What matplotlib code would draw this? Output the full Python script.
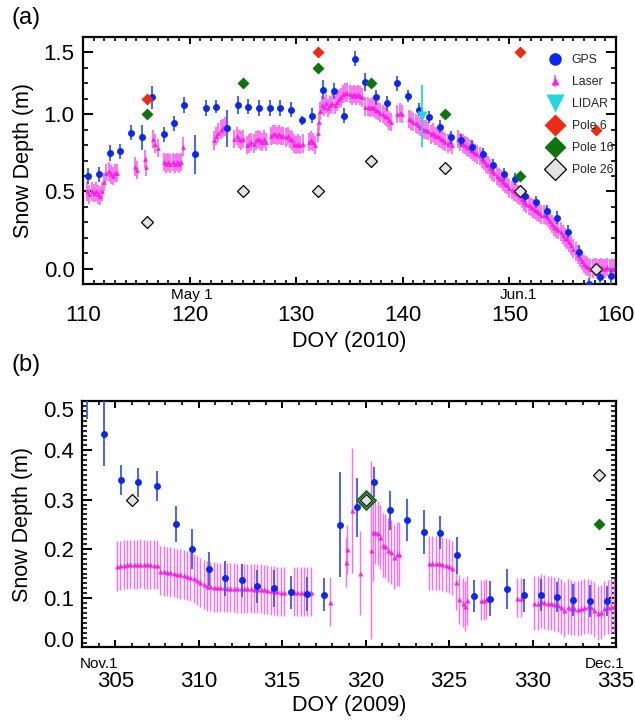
import numpy as np
import matplotlib
matplotlib.use('Agg')
import matplotlib.pyplot as plt
from matplotlib.ticker import MultipleLocator

plt.rcParams['font.family'] = ['Liberation Sans', 'DejaVu Sans']

# ---------------- panel (a): spring 2010 ----------------
gps_a_doy = [110.5, 111.5, 112.5, 113.5, 114.5, 115.5, 116.5, 117.6, 118.5, 119.5,
             120.5, 121.5, 122.5, 123.5, 124.5, 125.5, 126.5, 127.5, 128.5, 129.5,
             130.5, 131.5, 132.5, 133.5, 134.5, 135.5, 136.5, 137.5, 138.5, 139.5,
             140.5, 141.5, 142.5, 143.5, 144.5, 145.5, 146.5, 147.5, 148.5, 149.5,
             150.5, 151.5, 152.5, 153.5, 154.5, 155.5, 156.5, 157.5, 158.5, 159.5]
gps_a_depth = [0.60, 0.61, 0.75, 0.76, 0.88, 0.85, 1.11, 0.87, 0.94, 1.06,
               0.74, 1.04, 1.05, 0.91, 1.06, 1.05, 1.04, 1.04, 1.04, 1.03,
               0.96, 0.99, 1.16, 1.15, 0.99, 1.36, 1.21, 1.11, 1.07, 1.20,
               1.12, 1.03, 0.98, 0.92, 0.85, 0.83, 0.79, 0.74, 0.67, 0.61,
               0.58, 0.47, 0.43, 0.37, 0.33, 0.24, 0.11, -0.10, -0.055, -0.05]
gps_a_err = [0.05, 0.05, 0.05, 0.05, 0.05, 0.08, 0.075, 0.05, 0.05, 0.05,
             0.125, 0.05, 0.04, 0.12, 0.06, 0.05, 0.05, 0.05, 0.05, 0.05,
             0.03, 0.05, 0.06, 0.05, 0.05, 0.05, 0.06, 0.05, 0.05, 0.05,
             0.04, 0.04, 0.04, 0.04, 0.04, 0.04, 0.04, 0.04, 0.04, 0.04,
             0.04, 0.04, 0.04, 0.04, 0.04, 0.04, 0.04, 0.04, 0.05, 0.05]

laser_a_doy = [110.4, 110.6, 110.8, 111.0, 111.2, 111.4, 111.6, 111.8,
               112.0, 112.2, 112.4, 112.6, 112.8, 113.0, 113.2,
               114.9, 115.05, 115.8, 115.95, 116.6, 116.8, 117.0,
               117.6, 117.8, 118.0, 118.2, 118.4, 118.6, 118.8, 119.0, 119.2, 119.35,
               122.3, 122.5, 122.7, 122.9, 123.1, 123.3,
               124.2, 124.4, 124.6, 124.8, 125.0,
               125.4, 125.6, 125.8, 126.0, 126.2, 126.4, 126.6, 126.8, 127.0, 127.2,
               127.6, 127.8, 128.0, 128.2, 128.4, 128.6, 128.8, 129.0, 129.2, 129.4, 129.6,
               129.8, 130.0, 130.2, 130.4, 130.6,
               131.2, 131.4, 131.6, 131.8,
               132.0, 132.1, 132.2, 132.4, 132.6, 132.8, 133.0, 133.2, 133.4, 133.6, 133.8,
               134.0, 134.2, 134.4, 134.6, 134.8, 135.0, 135.2, 135.4, 135.6, 135.8, 136.0, 136.2,
               136.5, 136.7, 136.9, 137.1, 137.3, 137.5, 137.7, 137.9, 138.1, 138.3, 138.5, 138.7, 138.9,
               139.5, 139.7, 139.9,
               140.6, 140.8, 141.0, 141.2, 141.4, 141.6, 141.8, 142.0, 142.2, 142.4, 142.6, 142.8,
               143.0, 143.2, 143.4, 143.6, 143.8, 144.0, 144.2, 144.4, 144.6,
               145.2, 145.4, 145.6, 145.8, 146.0, 146.2, 146.4, 146.6, 146.8, 147.0,
               147.2, 147.4, 147.6, 147.8, 148.0, 148.2, 148.4, 148.6, 148.8, 149.0,
               149.2, 149.4, 149.6, 149.8, 150.0, 150.2, 150.4, 150.6, 150.8, 151.0,
               151.2, 151.4, 151.6, 151.8, 152.0, 152.2, 152.4, 152.6, 152.8, 153.0,
               153.2, 153.4, 153.6, 153.8, 154.0, 154.2, 154.4, 154.6, 154.8, 155.0,
               155.2, 155.4, 155.6, 155.8, 156.0, 156.2, 156.4, 156.6, 156.8, 157.0,
               157.2, 157.4, 157.6, 157.8, 158.0, 158.2, 158.4, 158.6, 158.8, 159.0,
               159.2, 159.4, 159.6, 159.8]
laser_a_depth = [0.50, 0.48, 0.50, 0.49, 0.50, 0.48, 0.47, 0.50,
                 0.56, 0.62, 0.63, 0.61, 0.60, 0.62, 0.62,
                 0.66, 0.64, 0.71, 0.66, 0.84, 0.81, 0.78,
                 0.69, 0.68, 0.69, 0.68, 0.69, 0.68, 0.69, 0.68, 0.69, 0.79,
                 0.83, 0.86, 0.88, 0.90, 0.91, 0.92,
                 0.84, 0.86, 0.84, 0.83, 0.84,
                 0.80, 0.81, 0.82, 0.81, 0.83, 0.84, 0.83, 0.82, 0.84, 0.82,
                 0.86, 0.87, 0.87, 0.86, 0.87, 0.86, 0.86, 0.85, 0.86, 0.84, 0.83,
                 0.81, 0.80, 0.81, 0.80, 0.81,
                 0.82, 0.83, 0.82, 0.80,
                 0.88, 0.95, 1.02, 1.06, 1.05, 1.07, 1.04, 1.06, 1.07, 1.06, 1.08,
                 1.10, 1.11, 1.13, 1.14, 1.14, 1.13, 1.12, 1.13, 1.12, 1.13, 1.12, 1.11,
                 1.05, 1.05, 1.04, 1.05, 1.04, 1.03, 1.02, 1.01, 1.00, 0.99, 0.98, 0.96, 0.95,
                 1.00, 1.01, 1.00,
                 0.97, 0.96, 0.95, 0.94, 0.93, 0.92, 0.91, 0.90, 0.90, 0.89, 0.87, 0.88,
                 0.86, 0.86, 0.85, 0.84, 0.83, 0.82, 0.81, 0.82, 0.80,
                 0.84, 0.82, 0.81, 0.80, 0.79, 0.78, 0.77, 0.76, 0.75, 0.74,
                 0.73, 0.71, 0.70, 0.68, 0.67, 0.65, 0.63, 0.62, 0.60, 0.59,
                 0.58, 0.56, 0.55, 0.54, 0.52, 0.51, 0.50, 0.49, 0.48, 0.47,
                 0.45, 0.43, 0.42, 0.41, 0.40, 0.39, 0.38, 0.37, 0.36, 0.35,
                 0.35, 0.34, 0.33, 0.31, 0.29, 0.27, 0.26, 0.25, 0.24, 0.22,
                 0.20, 0.19, 0.17, 0.15, 0.13, 0.11, 0.09, 0.07, 0.05, 0.03,
                 0.02, 0.01, 0.00, 0.00, 0.01, 0.00, 0.00, 0.01, 0.00, 0.00,
                 0.01, 0.00, 0.00, 0.00]
laser_a_err = 0.06

lidar_doy = [141.8]
lidar_depth = [0.99]
lidar_err = [0.20]

pole6_a_doy = [116.0, 132.0, 151.0, 158.1]
pole6_a_depth = [1.10, 1.40, 1.40, 0.90]
pole16_a_doy = [116.0, 125.0, 132.0, 137.0, 144.0, 151.0]
pole16_a_depth = [1.00, 1.20, 1.30, 1.20, 1.00, 0.60]
pole26_a_doy = [116.0, 125.0, 132.0, 137.0, 144.0, 151.0, 158.1]
pole26_a_depth = [0.30, 0.50, 0.50, 0.70, 0.65, 0.50, 0.00]

# ---------------- panel (b): Nov 2009 ----------------
gps_b_doy = [303.3, 304.34, 305.36, 306.36, 307.5, 308.62, 309.58, 310.6, 311.6, 312.6,
             313.48, 314.48, 315.5, 316.5, 317.48, 318.48, 319.48, 320.48, 321.48, 322.48,
             323.48, 324.48, 325.46, 326.48, 327.48, 328.46, 329.48, 330.48, 331.46, 332.44,
             333.44, 334.44]
gps_b_depth = [0.55, 0.434, 0.340, 0.335, 0.328, 0.251, 0.200, 0.159, 0.140, 0.136,
               0.124, 0.120, 0.112, 0.109, 0.107, 0.249, 0.284, 0.336, 0.278, 0.259,
               0.234, 0.233, 0.187, 0.105, 0.099, 0.119, 0.106, 0.107, 0.102, 0.096,
               0.094, 0.094]
gps_b_err = [0.087, 0.066, 0.030, 0.030, 0.030, 0.037, 0.040, 0.035, 0.035, 0.033,
             0.034, 0.037, 0.033, 0.035, 0.033, 0.106, 0.060, 0.031, 0.039, 0.043,
             0.044, 0.033, 0.038, 0.032, 0.035, 0.041, 0.033, 0.032, 0.030, 0.033,
             0.032, 0.030]

laser_b_doy = [305.1, 305.3, 305.5, 305.7, 305.9, 306.1, 306.3, 306.5, 306.7, 306.9, 307.1, 307.3, 307.5,
               307.7, 307.9, 308.1, 308.3, 308.5, 308.7, 308.9, 309.1, 309.3, 309.5,
               309.7, 309.9, 310.1, 310.3, 310.5,
               310.7, 310.9, 311.1, 311.3, 311.5, 311.7, 311.9, 312.1, 312.3, 312.5, 312.7, 312.9,
               313.1, 313.3, 313.5, 313.7, 313.9, 314.1, 314.3, 314.5, 314.7, 314.9, 315.1,
               315.7, 315.9, 316.1, 316.3, 316.5, 316.7,
               317.84, 318.8, 318.9, 319.2, 319.64, 320.3, 320.45,
               320.58, 320.72, 320.88, 321.04, 321.18, 321.32, 321.52, 321.72, 321.88, 322.0,
               323.8, 324.0, 324.2, 324.4, 324.6, 324.8, 325.0, 325.2, 325.4,
               325.62, 325.82, 325.94, 326.08,
               326.9, 327.1, 327.2, 329.1, 329.3,
               330.1, 330.3, 330.5, 330.7, 330.9, 331.1, 331.3, 331.5, 331.7, 331.9,
               332.1, 332.3, 332.5, 332.7, 332.9, 333.1, 333.3, 333.5, 333.7, 333.9,
               334.1, 334.3, 334.5, 334.7, 334.9]
laser_b_depth = [0.165, 0.167, 0.168, 0.169, 0.169, 0.169, 0.169, 0.170, 0.169, 0.169, 0.169, 0.168, 0.168,
                 0.156, 0.155, 0.154, 0.153, 0.152, 0.150, 0.149, 0.148, 0.146, 0.144,
                 0.140, 0.136, 0.132, 0.128, 0.125,
                 0.124, 0.123, 0.122, 0.122, 0.122, 0.121, 0.121, 0.121, 0.120, 0.120, 0.120, 0.120,
                 0.120, 0.119, 0.119, 0.119, 0.118, 0.117, 0.116, 0.115, 0.114, 0.113, 0.113,
                 0.113, 0.113, 0.113, 0.113, 0.113, 0.113,
                 0.093, 0.173, 0.199, 0.278, 0.151, 0.198, 0.234,
                 0.234, 0.232, 0.224, 0.207, 0.206, 0.197, 0.194, 0.184, 0.190, 0.189,
                 0.172, 0.172, 0.172, 0.171, 0.170, 0.168, 0.165, 0.162, 0.132,
                 0.098, 0.091, 0.084, 0.096,
                 0.096, 0.096, 0.098, 0.101, 0.101,
                 0.090, 0.091, 0.094, 0.092, 0.090, 0.090, 0.088, 0.087, 0.083, 0.077,
                 0.083, 0.081, 0.080, 0.079, 0.081, 0.083, 0.084, 0.082, 0.077, 0.070,
                 0.072, 0.080, 0.082, 0.085, 0.085]
laser_b_err = ([0.05] * 57 +
               [0.05, 0.05, 0.05, 0.126, 0.086, 0.18, 0.10] +
               [0.065] * 10 +
               [0.055] * 9 + [0.05] * 4 + [0.04] * 5 + [0.055] * 25)

pole16_b_doy = [320.0, 334.0]
pole16_b_depth = [0.30, 0.25]
pole26_b_doy = [306.0, 320.0, 334.0]
pole26_b_depth = [0.30, 0.30, 0.35]

month_a_pos = [120.2, 150.8]
month_a_lab = ['May 1', 'Jun.1']
month_b_pos = [304.0, 334.3]
month_b_lab = ['Nov.1', 'Dec.1']

GPS_C = '#0a28f5'
GPS_E = '#3a55ff'
LASER_C = '#ff1ee6'
LASER_E = '#ff6af2'
LIDAR_C = '#22d8e0'
P6_C = '#ee2a10'
P16_C = '#0c760c'
P26_C = '#e2e2e2'


def style_axes(ax):
    for s in ax.spines.values():
        s.set_linewidth(1.6)
    ax.tick_params(which='both', direction='in', top=True, right=True, labelsize=16)
    ax.tick_params(axis='y', which='major', length=7, width=1.4, pad=6)
    ax.tick_params(axis='y', which='minor', length=3.5, width=1.2)
    ax.tick_params(axis='x', which='major', length=5, width=1.4, pad=15)
    ax.tick_params(axis='x', which='minor', length=3, width=1.2)
    ax.set_ylabel('Snow Depth (m)', fontsize=15.5, labelpad=7)


def draw_panel(ax, gx, gy, ge, lx, ly, le, ms_laser, lw_laser):
    ax.errorbar(lx, ly, yerr=le, fmt='^', color=LASER_C, ecolor=LASER_E,
                elinewidth=lw_laser, ms=ms_laser, mec='none', capsize=0, zorder=2,
                label='Laser')
    ax.errorbar(gx, gy, yerr=ge, fmt='o', color=GPS_C, ecolor=GPS_E,
                elinewidth=1.3, ms=5, mec='none', capsize=0, zorder=3,
                label='GPS')


fig = plt.figure(figsize=(6.35, 7.22), dpi=100)
ax1 = fig.add_axes([0.1307, 0.6066, 0.8394, 0.3421])
ax2 = fig.add_axes([0.1291, 0.1032, 0.8409, 0.3414])

# panel (a)
draw_panel(ax1, gps_a_doy, gps_a_depth, gps_a_err,
           laser_a_doy, laser_a_depth, laser_a_err, 3.4, 1.3)
ax1.errorbar(lidar_doy, lidar_depth, yerr=lidar_err, fmt='v', color=LIDAR_C,
             ecolor=LIDAR_C, elinewidth=1.3, ms=7, mec='none', capsize=0, zorder=4,
             label='LIDAR')
ax1.plot(pole6_a_doy, pole6_a_depth, 'D', color=P6_C, ms=6.5, mec='none', zorder=5, label='Pole 6')
ax1.plot(pole16_a_doy, pole16_a_depth, 'D', color=P16_C, ms=6.5, mec='none', zorder=5, label='Pole 16')
ax1.plot(pole26_a_doy, pole26_a_depth, 'D', color=P26_C, ms=6.5, mec='black', mew=0.9,
         zorder=5, label='Pole 26')

ax1.set_xlim(110, 160)
ax1.set_ylim(-0.1, 1.5)
ax1.xaxis.set_major_locator(MultipleLocator(10))
ax1.xaxis.set_minor_locator(MultipleLocator(1))
ax1.set_yticks([0.0, 0.5, 1.0, 1.4])
ax1.set_yticklabels(['0.0', '0.5', '1.0', '1.5'])
ax1.yaxis.set_minor_locator(MultipleLocator(0.1))
style_axes(ax1)
ax1.set_xlabel('DOY (2010)', fontsize=15.5, labelpad=4)
for p, t in zip(month_a_pos, month_a_lab):
    ax1.text(p, -0.045, t, transform=ax1.get_xaxis_transform(), ha='center', va='center',
             fontsize=11)

h, l = ax1.get_legend_handles_labels()
order = ['GPS', 'Laser', 'LIDAR', 'Pole 6', 'Pole 16', 'Pole 26']
hh = [h[l.index(k)] for k in order]
leg = ax1.legend(hh, order, loc='upper left', bbox_to_anchor=(0.862, 0.95),
                 frameon=False, fontsize=8.8, markerscale=1.8, handlelength=1.3,
                 handletextpad=0.7, labelspacing=0.82, borderaxespad=0)
leg.set_zorder(10)
for t in leg.get_texts():
    t.set_color('#222222')
fig.text(0.018, 0.975, '(a)', fontsize=17, va='center', ha='left')

# panel (b)
draw_panel(ax2, gps_b_doy, gps_b_depth, gps_b_err,
           laser_b_doy, laser_b_depth, laser_b_err, 3.6, 1.0)
ax2.plot(pole16_b_doy[:1], pole16_b_depth[:1], 'D', color='white', ms=9, mec=P16_C, mew=1.8, zorder=5)
ax2.plot(pole16_b_doy[1:], pole16_b_depth[1:], 'D', color=P16_C, ms=6, mec='none', zorder=5)
ax2.plot(pole26_b_doy, pole26_b_depth, 'D', color=P26_C, ms=6.5, mec='black', mew=0.9, zorder=6)

ax2.set_xlim(303, 335)
ax2.set_ylim(0, 0.5)
ax2.xaxis.set_major_locator(MultipleLocator(5))
ax2.xaxis.set_minor_locator(MultipleLocator(1))
ax2.yaxis.set_major_locator(MultipleLocator(0.1))
ax2.yaxis.set_minor_locator(MultipleLocator(0.01))
style_axes(ax2)
ax2.tick_params(axis='x', which='major', pad=17)
ax2.set_xlabel('DOY (2009)', fontsize=15.5, labelpad=2)
fig.canvas.draw()
for t in ax2.get_yticklabels():
    if t.get_text() == '0.5':
        t.set_va('top')
    if t.get_text() == '0.0':
        t.set_va('baseline')
for p, t in zip(month_b_pos, month_b_lab):
    ax2.text(p, -0.065, t, transform=ax2.get_xaxis_transform(), ha='center', va='center',
             fontsize=11)
fig.text(0.018, 0.495, '(b)', fontsize=17, va='center', ha='left')

fig.savefig('out.png', dpi=100)
